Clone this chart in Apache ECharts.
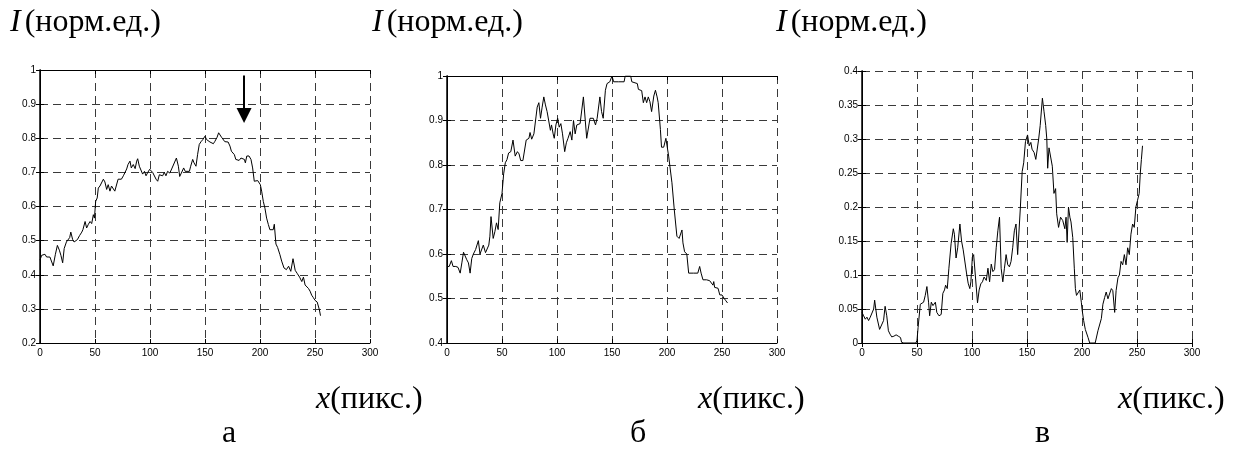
<!DOCTYPE html>
<html>
<head>
<meta charset="utf-8">
<script src="https://cdn.jsdelivr.net/npm/echarts@6/dist/echarts.min.js"></script>
<style>
  html, body { margin: 0; padding: 0; background: #fff; }
  #chart { width: 1235px; height: 459px; }
</style>
</head>
<body>
<div id="chart"></div>
<script>
// Intensity profiles along a row of pixels, three cases (а, б, в).
const xTicks = [0, 50, 100, 150, 200, 250, 300];

// profile а: [pixel, intensity]
const profileA = [
  [0,0.443],[1.5,0.457],[3,0.452],[4.5,0.46],[6,0.452],[7.6,0.457],[9,0.452],[10.6,0.45],[12,0.426],
  [14,0.46],[15.8,0.486],[17.6,0.472],[19,0.457],[20.6,0.435],[22,0.477],[24,0.496],[25.8,0.5],
  [27,0.509],[28,0.525],[29.7,0.503],[31,0.496],[32.7,0.5],[34,0.503],[36,0.515],[38,0.525],
  [39,0.532],[41,0.556],[42.4,0.537],[44,0.548],[45.5,0.556],[47,0.55],[48.5,0.576],[49.5,0.566],
  [50.6,0.615],[52,0.625],[53,0.654],[54.5,0.66],[56,0.66],[57.6,0.68],[59,0.672],[60.6,0.65],
  [62,0.664],[63.6,0.645],[65,0.66],[66.5,0.664],[68,0.645],[69.5,0.645],[71,0.68],[72.7,0.684],
  [74,0.68],[75.8,0.69],[77,0.688],[78.8,0.71],[80,0.723],[81.8,0.733],[83,0.713],[84.8,0.723],
  [86.5,0.711],[87.9,0.733],[88.8,0.74],[90.3,0.718],[92,0.713],[93.3,0.695],[95,0.703],[96.4,0.69],
  [98,0.7],[99.7,0.709],[101,0.713],[102.4,0.7],[104,0.7],[105.5,0.68],[107,0.674],[108.5,0.693],
  [110,0.698],[111.5,0.69],[113,0.7],[114.5,0.69],[116,0.703],[118,0.698],[119.7,0.71],[121.5,0.705],
  [124,0.742],[125.8,0.718],[127,0.688],[128.5,0.698],[130.6,0.713],[132,0.703],[133.5,0.708],
  [135.8,0.703],[137,0.718],[138.8,0.738],[140,0.728],[141.8,0.718],[143.3,0.753],[144.8,0.782],
  [146.4,0.79],[148,0.796],[150,0.806],[151.5,0.796],[153,0.791],[154.5,0.789],[156,0.794],
  [157.6,0.784],[159,0.791],[161,0.803],[162.4,0.816],[163.6,0.819],[165,0.803],[166.5,0.8],
  [168,0.79],[169.7,0.787],[171,0.789],[172.7,0.777],[174,0.762],[175.5,0.762],[176.7,0.752],
  [178,0.738],[179.5,0.74],[181,0.735],[182.7,0.742],[184,0.737],[185.8,0.738],[186.7,0.728],
  [188,0.748],[189,0.743],[190,0.748],[191.8,0.738],[193.3,0.713],[194.8,0.674],[196.5,0.669],
  [197.9,0.676],[199,0.674],[200.3,0.664],[201.5,0.645],[203,0.615],[204.5,0.595],[206,0.566],
  [207.6,0.547],[209,0.532],[210.5,0.537],[212,0.532],[213,0.548],[214.5,0.49],[216,0.48],
  [218,0.46],[219.7,0.44],[221.8,0.42],[224,0.415],[226,0.425],[228,0.41],[230,0.447],[232,0.413],
  [234,0.403],[236,0.393],[238,0.38],[239.5,0.393],[241,0.37],[242.5,0.375],[244,0.36],
  [245.5,0.352],[247,0.34],[248.5,0.333],[250,0.325],[252,0.32],[254,0.297],[255,0.28]
];

// profile б
const profileB = [
  [0,0.572],[2,0.572],[4,0.585],[5.5,0.572],[8,0.572],[10,0.57],[12,0.557],[13.5,0.58],[15,0.604],
  [16.5,0.6],[18,0.587],[19.5,0.58],[21,0.557],[22.5,0.59],[24,0.6],[26,0.61],[27,0.61],[28.5,0.63],
  [30,0.6],[31.5,0.604],[33,0.62],[35,0.603],[36.5,0.604],[38,0.62],[39,0.64],[40,0.684],[42,0.635],
  [43.5,0.65],[45,0.67],[46.5,0.655],[48,0.715],[50,0.736],[51.5,0.78],[53,0.805],[54.5,0.812],
  [56,0.827],[58,0.83],[60,0.856],[62,0.82],[64,0.83],[65.5,0.825],[67,0.81],[69,0.81],[70.5,0.81],
  [72,0.856],[73,0.855],[74.5,0.86],[75.5,0.873],[77,0.858],[79,0.87],[81,0.91],[82,0.93],
  [83.5,0.94],[85,0.905],[86.5,0.93],[88,0.953],[89.5,0.935],[91,0.92],[92.5,0.918],[94,0.878],
  [95,0.89],[96.5,0.87],[97.5,0.86],[99,0.89],[100.6,0.905],[102,0.885],[103.5,0.893],[105,0.87],
  [107,0.83],[108.5,0.85],[110,0.86],[112,0.875],[113.5,0.856],[115,0.9],[116.5,0.87],[118,0.89],
  [121,0.893],[124,0.953],[127,0.86],[130,0.905],[133,0.905],[135,0.89],[136.5,0.905],[139,0.953],
  [140.5,0.92],[142,0.905],[144,0.968],[145.5,0.983],[148,0.987],[150,1.0],[151.5,0.987],
  [156,0.987],[161,0.987],[162,1.0],[167,1.0],[168,0.987],[173,0.983],[174,0.97],[177,0.967],
  [178.5,0.94],[180,0.953],[181.5,0.94],[183,0.953],[184.5,0.942],[186,0.92],[188,0.955],
  [189.5,0.968],[191,0.953],[192,0.94],[194,0.88],[195,0.84],[197,0.84],[199,0.86],[201.5,0.82],
  [204.5,0.76],[206.6,0.7],[209,0.64],[211,0.635],[213.6,0.654],[214.5,0.625],[216,0.605],
  [218,0.6],[219.7,0.557],[224,0.557],[228,0.557],[229.7,0.572],[231,0.557],[232.7,0.542],
  [236,0.542],[238.8,0.54],[241.8,0.53],[242.5,0.538],[243.3,0.525],[246.4,0.523],[248,0.508],
  [250,0.508],[252,0.5],[253.5,0.495],[255,0.49]
];

// profile в
const profileC = [
  [0,0.045],[1.5,0.04],[3,0.035],[4.5,0.038],[6,0.033],[7.5,0.038],[9,0.04],[10.6,0.05],[11.5,0.063],
  [13.5,0.038],[16,0.02],[17.5,0.022],[19.6,0.033],[21,0.054],[22.5,0.04],[24,0.018],[25.5,0.013],
  [27,0.009],[29,0.01],[31,0.012],[33,0.01],[35,0.008],[36,0.001],[38,0],[49,0],[50,0.004],
  [51,0.023],[53,0.057],[54.5,0.055],[56,0.06],[57.5,0.07],[59,0.083],[60.5,0.06],[61.5,0.04],
  [63,0.06],[64.5,0.055],[66.7,0.06],[68,0.045],[70,0.04],[72,0.042],[73.5,0.073],[75,0.078],
  [76,0.085],[77.5,0.08],[79,0.11],[81,0.146],[83,0.168],[84,0.16],[85.5,0.125],[87,0.14],
  [89,0.175],[90.5,0.15],[92,0.137],[93,0.137],[95,0.103],[96.5,0.088],[98,0.08],[99,0.09],
  [100.3,0.126],[101.5,0.13],[103,0.1],[105,0.059],[106.5,0.078],[108,0.087],[109.5,0.09],
  [111,0.097],[113,0.092],[114.5,0.11],[116,0.09],[117.5,0.116],[119,0.105],[120.5,0.108],
  [122,0.14],[123.5,0.165],[125,0.185],[126.5,0.11],[128,0.09],[129.5,0.11],[131,0.13],
  [132.5,0.115],[134,0.112],[135.5,0.12],[137,0.14],[138.5,0.165],[140,0.175],[141.5,0.13],
  [142.6,0.128],[144,0.2],[145.6,0.252],[147,0.265],[148.6,0.296],[150.5,0.306],[152,0.29],
  [153.5,0.295],[154.6,0.285],[156.5,0.28],[158,0.27],[159.5,0.27],[160.6,0.3],[162,0.32],
  [164,0.36],[165.5,0.34],[167,0.32],[168,0.3],[168.8,0.257],[170,0.287],[171.5,0.287],[173,0.26],
  [174.5,0.22],[176,0.227],[177,0.19],[178.7,0.17],[180.5,0.185],[182.5,0.18],[184.4,0.168],
  [185.5,0.185],[186.5,0.148],[187.7,0.2],[189,0.185],[190,0.178],[191.6,0.155],[193,0.11],
  [194,0.08],[195,0.07],[196.5,0.068],[198,0.078],[199.4,0.06],[200,0.05],[201.5,0.033],[203,0.02],
  [205.5,0.008],[207,0],[212,0],[214.5,0.018],[216,0.02],[217.6,0.036],[219,0.057],[220.6,0.067],
  [222,0.075],[223.6,0.065],[225,0.072],[226.7,0.08],[228,0.077],[229.7,0.045],[231,0.077],
  [232.7,0.096],[234,0.1],[235.5,0.12],[237,0.115],[238.5,0.13],[240,0.115],[241.5,0.14],
  [243,0.13],[244.5,0.16],[246,0.175],[247.5,0.17],[249,0.2],[250.5,0.21],[252,0.22],[253,0.25],
  [254,0.27],[255,0.29]
];

// y ranges and tick steps of the three panels
const yRangeA = { min: 0.2, max: 1.0, step: 0.1 };
const yRangeB = { min: 0.4, max: 1.0, step: 0.1 };
const yRangeC = { min: 0.0, max: 0.4, step: 0.05 };

// arrow in panel а: [x, yTop, yHead]
const arrowA = [185.5, 0.984, 0.867];

const panelLetters = ['а', 'б', 'в'];
const yTitle = 'норм.ед.';
const xTitle = 'пикс.';

const chart = echarts.init(document.getElementById('chart'), null, { renderer: 'canvas' });

const grids = [
  { left: 40,  top: 70, width: 330, height: 273 },
  { left: 447, top: 76, width: 330, height: 267 },
  { left: 862, top: 71, width: 330, height: 272 }
];
const ranges = [yRangeA, yRangeB, yRangeC];
const profiles = [profileA, profileB, profileC];

const tickFont = { fontFamily: 'Liberation Sans, Arial, sans-serif', fontSize: 10, color: '#000' };
const dash = { color: '#3a3a3a', width: 1, type: [8, 5] };
const fmt = v => String(+v.toFixed(2));

const xAxes = [], yAxes = [], series = [];
grids.forEach((g, i) => {
  const r = ranges[i];
  // bottom axis with labels and grid
  xAxes.push({
    type: 'value', gridIndex: i, position: 'bottom',
    min: xTicks[0], max: xTicks[xTicks.length - 1], interval: xTicks[1] - xTicks[0],
    axisLine: { lineStyle: { color: '#000', width: 1 } },
    axisTick: { inside: true, length: 4, lineStyle: { color: '#000' } },
    axisLabel: Object.assign({ margin: 5, formatter: fmt }, tickFont),
    splitLine: { show: true, lineStyle: dash }
  });
  // top edge of the box
  xAxes.push({
    type: 'value', gridIndex: i, position: 'top',
    min: xTicks[0], max: xTicks[xTicks.length - 1], interval: xTicks[1] - xTicks[0],
    axisLine: { lineStyle: { color: '#000', width: 1 } },
    axisTick: { inside: true, length: 4, lineStyle: { color: '#000' } },
    axisLabel: { show: false }, splitLine: { show: false }
  });
  yAxes.push({
    type: 'value', gridIndex: i, position: 'left',
    min: r.min, max: r.max, interval: r.step,
    axisLine: { show: true, lineStyle: { color: '#000', width: 1.5 } },
    axisTick: { show: true, inside: true, length: 4, lineStyle: { color: '#000' } },
    axisLabel: Object.assign({ margin: 4, formatter: fmt }, tickFont),
    splitLine: { show: true, lineStyle: dash }
  });
  // right edge of the box
  yAxes.push({
    type: 'value', gridIndex: i, position: 'right',
    min: r.min, max: r.max, interval: r.step,
    axisLine: { show: true, lineStyle: { color: '#000', width: 1 } },
    axisTick: { show: true, inside: true, length: 4, lineStyle: { color: '#000' } },
    axisLabel: { show: false }, splitLine: { show: false }
  });
  const s = {
    type: 'line', xAxisIndex: 2 * i, yAxisIndex: 2 * i,
    data: profiles[i], showSymbol: false, symbol: 'none',
    lineStyle: { color: '#000', width: 1 },
    emphasis: { disabled: true }, silent: true, animation: false
  };
  if (i === 0) {
    s.markLine = {
      silent: true, animation: false,
      symbol: ['none', 'triangle'], symbolSize: [15, 15],
      label: { show: false },
      lineStyle: { color: '#000', width: 2, type: 'solid' },
      emphasis: { disabled: true },
      data: [[{ coord: [arrowA[0], arrowA[1]] }, { coord: [arrowA[0], arrowA[2]] }]]
    };
  }
  series.push(s);
});

const serif = 'Liberation Serif, Times New Roman, serif';
const graphics = [];
const titleX = [10, 372, 776];
const xTitleX = [316, 698, 1118];
const letterX = [222, 630, 1035];
const big = { fontFamily: serif, fontSize: 32, fill: '#000' };
for (let i = 0; i < 3; i++) {
  graphics.push({
    type: 'text', left: titleX[i], top: 7,
    style: {
      text: '{i|I}{r|(' + yTitle + ')}',
      rich: {
        i: Object.assign({ fontStyle: 'italic', padding: [0, 4, 0, 0] }, big),
        r: big
      }
    }
  });
  graphics.push({
    type: 'text', left: xTitleX[i], top: 384,
    style: {
      text: '{i|x}{r|(' + xTitle + ')}',
      rich: {
        i: Object.assign({ fontStyle: 'italic' }, big),
        r: big
      }
    }
  });
  graphics.push({
    type: 'text', left: letterX[i], top: 418,
    style: { text: panelLetters[i], fontFamily: serif, fontSize: 32, fill: '#000' }
  });
}

chart.setOption({
  backgroundColor: '#fff',
  animation: false,
  grid: grids,
  xAxis: xAxes,
  yAxis: yAxes,
  series: series,
  graphic: graphics
});
</script>
</body>
</html>
